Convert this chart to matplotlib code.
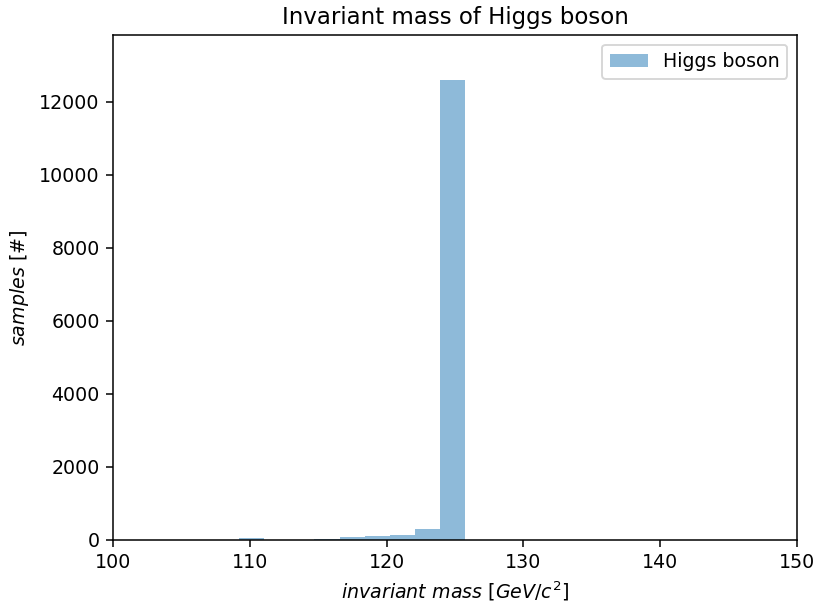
import matplotlib.pyplot as plt
import numpy as np

# Histogram bins (GeV/c^2) and counts per bin
bin_edges = np.linspace(100, 149.68, 28)
counts = [3, 3, 3, 3, 3, 45, 3, 3, 40, 70, 100, 125, 290, 12600,
          5, 0, 0, 0, 0, 0, 0, 0, 0, 0, 0, 0, 0]

centers = 0.5 * (bin_edges[:-1] + bin_edges[1:])

dpi = 137
fig = plt.figure(figsize=(818 / dpi, 607 / dpi), dpi=dpi)
ax = fig.add_axes([0.1381, 0.1104, 0.8362, 0.8319])

ax.hist(centers, bins=bin_edges, weights=counts, alpha=0.5, label='Higgs boson')

ax.set_xlim(100, 150)
ax.set_ylim(0, 13830)
ax.set_title('Invariant mass of Higgs boson')
ax.set_xlabel(r'$invariant\ mass\ [GeV/c^2]$')
ax.set_ylabel(r'$samples\ [\#]$')
ax.legend(loc='upper right')

plt.savefig('out.png', dpi=dpi)
